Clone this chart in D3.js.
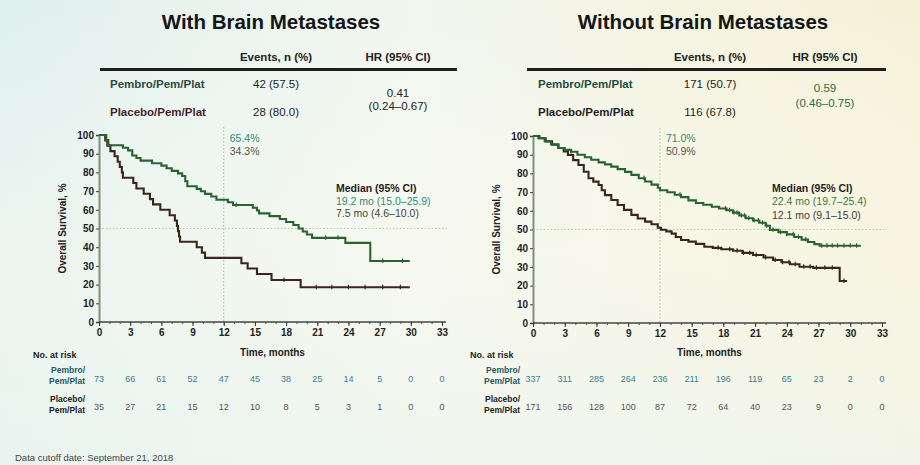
<!DOCTYPE html>
<html>
<head>
<meta charset="utf-8">
<script src="https://cdn.jsdelivr.net/npm/d3@7"></script>
<style>
  html, body { margin: 0; padding: 0; background: #f3f6ee; }
  svg { display: block; font-family: "Liberation Sans", Arial, sans-serif; }
</style>
</head>
<body>
<svg id="chart" width="920" height="465"></svg>
<script>
// ---- shared axis values ----
const timeTicks = [0, 3, 6, 9, 12, 15, 18, 21, 24, 27, 30, 33];
const survivalTicks = [0, 10, 20, 30, 40, 50, 60, 70, 80, 90, 100];

// ---- With brain metastases: KM steps [month, OS %] ----
const withPembro = [
  [0, 100], [0.7, 97.3], [0.9, 94.5], [2.3, 93.2], [2.8, 91.8], [3.2, 89.0], [3.6, 87.7],
  [4.0, 86.3], [5.1, 84.9], [6.0, 83.6], [6.5, 82.2], [7.0, 80.8], [7.6, 79.5], [8.0, 78.1],
  [8.3, 75.3], [8.5, 72.6], [9.4, 71.2], [9.8, 69.9], [10.2, 68.5], [10.8, 67.1], [11.3, 65.4],
  [12.4, 64.0], [12.9, 62.6], [14.8, 61.1], [15.2, 59.6], [15.4, 58.1], [16.4, 56.6],
  [17.4, 55.1], [18.0, 53.5], [18.7, 51.9], [19.2, 50.0], [19.6, 48.4], [20.0, 46.8],
  [20.5, 45.0], [23.7, 42.3], [26.1, 32.6], [29.9, 32.6]
];
const withPlacebo = [
  [0, 100], [0.6, 97.1], [0.8, 94.3], [1.1, 91.4], [1.5, 88.6], [1.8, 85.7], [2.0, 82.9],
  [2.2, 80.0], [2.3, 77.1], [3.3, 74.3], [3.6, 71.4], [4.3, 68.6], [4.9, 65.7], [5.2, 62.9],
  [5.9, 60.0], [6.8, 57.1], [7.3, 54.3], [7.5, 51.4], [7.6, 48.6], [7.7, 45.7], [7.8, 42.9],
  [9.4, 40.0], [9.9, 37.1], [10.2, 34.3], [13.7, 31.4], [14.3, 28.6], [15.2, 25.7],
  [16.6, 22.5], [19.4, 18.6], [29.9, 18.6]
];
const withPembroCensor = [13.2, 21.8, 23.0, 27.3, 29.2];
const withPlaceboCensor = [17.8, 20.9, 22.4, 24.0, 25.6, 27.3, 29.0];
const withRiskPembro = [73, 66, 61, 52, 47, 45, 38, 25, 14, 5, 0, 0];
const withRiskPlacebo = [35, 27, 21, 15, 12, 10, 8, 5, 3, 1, 0, 0];
const withEvents = ["42 (57.5)", "28 (80.0)"];
const withHR = ["0.41", "(0.24–0.67)"];
const withAt12 = ["65.4%", "34.3%"];
const withMedians = ["19.2 mo (15.0–25.9)", "7.5 mo (4.6–10.0)"];

// ---- Without brain metastases ----
const withoutPembro = [
  [0, 100], [0.5, 98.8], [1.1, 97.2], [1.7, 95.6], [2.4, 93.6], [3.0, 92.6], [3.6, 91.6],
  [4.2, 90.0], [4.9, 88.6], [5.5, 87.3], [6.2, 85.9], [6.8, 84.8], [7.4, 83.6], [8.0, 82.3],
  [8.7, 80.8], [9.3, 79.2], [10.0, 77.4], [10.6, 75.7], [11.2, 74.0], [11.8, 72.3], [12.0, 71.0],
  [12.7, 69.9], [13.4, 68.6], [14.0, 67.3], [14.7, 65.6], [15.4, 64.2], [16.1, 63.2],
  [16.9, 62.2], [17.6, 61.2], [18.3, 60.3], [18.9, 59.0], [19.5, 57.5], [20.1, 56.0],
  [20.8, 54.8], [21.4, 53.6], [22.0, 52.0], [22.4, 49.8], [23.2, 48.6], [24.0, 47.4],
  [24.7, 46.0], [25.4, 44.6], [26.0, 43.3], [26.6, 42.2], [27.1, 41.3], [31.0, 41.3]
];
const withoutPlacebo = [
  [0, 100], [0.6, 98.8], [1.2, 97.1], [1.8, 95.3], [2.4, 93.6], [2.9, 91.8], [3.3, 89.8],
  [3.8, 87.1], [4.3, 84.5], [4.8, 80.9], [5.25, 77.4], [5.7, 75.6], [6.2, 73.8], [6.5, 71.0],
  [6.8, 68.4], [7.4, 65.8], [8.0, 63.1], [8.6, 60.5], [9.3, 57.8], [9.9, 55.9], [10.6, 54.2],
  [11.2, 52.8], [11.8, 50.9], [12.1, 49.9], [12.6, 49.0], [13.1, 47.8], [13.5, 46.0],
  [14.0, 44.4], [14.7, 43.5], [15.4, 42.3], [16.2, 40.8], [17.0, 40.2], [17.8, 39.4],
  [18.9, 38.6], [19.8, 37.5], [20.8, 36.4], [21.8, 35.0], [22.7, 33.7], [23.5, 32.5],
  [24.3, 31.4], [25.2, 30.1], [26.5, 29.5], [29.0, 22.5], [29.7, 22.5]
];
const withoutPembroCensor = [3.6, 10.5, 13.9, 18.2, 18.6, 19.0, 19.3, 19.7, 20.0, 20.4, 20.9,
  21.3, 21.7, 22.1, 22.7, 23.4, 24.0, 24.6, 25.1, 25.8, 27.3, 27.8, 28.3, 28.8, 29.4, 30.0, 30.6];
const withoutPlaceboCensor = [17.5, 18.6, 19.3, 19.9, 20.5, 21.1, 22.0, 22.9, 23.6, 24.2,
  24.8, 25.6, 26.2, 26.8, 27.6, 28.3, 29.4];
const withoutRiskPembro = [337, 311, 285, 264, 236, 211, 196, 119, 65, 23, 2, 0];
const withoutRiskPlacebo = [171, 156, 128, 100, 87, 72, 64, 40, 23, 9, 0, 0];
const withoutEvents = ["171 (50.7)", "116 (67.8)"];
const withoutHR = ["0.59", "(0.46–0.75)"];
const withoutAt12 = ["71.0%", "50.9%"];
const withoutMedians = ["22.4 mo (19.7–25.4)", "12.1 mo (9.1–15.0)"];

const armNames = ["Pembro/Pem/Plat", "Placebo/Pem/Plat"];

const svg = d3.select("#chart");
const W = 920, H = 465;

// ---- slide backdrop ----
const defs = svg.append("defs");
const bgH = defs.append("linearGradient").attr("id", "bgH").attr("x1", 0).attr("x2", 1).attr("y1", 0).attr("y2", 0);
bgH.append("stop").attr("offset", 0).attr("stop-color", "#dff0ee");
bgH.append("stop").attr("offset", 0.45).attr("stop-color", "#f3f7ee");
bgH.append("stop").attr("offset", 1).attr("stop-color", "#f5f1d6");
const bgV = defs.append("linearGradient").attr("id", "bgV").attr("x1", 0).attr("x2", 0).attr("y1", 0).attr("y2", 1);
bgV.append("stop").attr("offset", 0).attr("stop-color", "#ffffff").attr("stop-opacity", 0.0);
bgV.append("stop").attr("offset", 0.55).attr("stop-color", "#fbfaf0").attr("stop-opacity", 0.45);
bgV.append("stop").attr("offset", 1).attr("stop-color", "#eef6f1").attr("stop-opacity", 0.6);
svg.append("rect").attr("width", W).attr("height", H).attr("fill", "url(#bgH)");
svg.append("rect").attr("width", W).attr("height", H).attr("fill", "url(#bgV)");

const GREEN = "#2a6332";
const PLACEBO = "#38261f";
const TEAL = "#2b8a78";

function stepValue(curve, t) {
  let v = curve[0][1];
  for (const [m, s] of curve) { if (m <= t) v = s; else break; }
  return v;
}

function drawPanel(p) {
  const g = svg.append("g");
  const x = d3.scaleLinear().domain([0, 33]).range([p.x0, p.x33]);
  const y = d3.scaleLinear().domain([0, 100]).range([p.y0, p.y100]);

  // title
  g.append("text").attr("x", p.titleX).attr("y", 29).attr("text-anchor", "middle")
    .attr("font-size", 20.5).attr("font-weight", "bold").attr("fill", "#161616").text(p.title);

  // summary table
  g.append("text").attr("x", p.evX).attr("y", 61).attr("text-anchor", "middle")
    .attr("font-size", 11.5).attr("font-weight", "bold").attr("fill", "#222").text("Events, n (%)");
  g.append("text").attr("x", p.hrX).attr("y", 61).attr("text-anchor", "middle")
    .attr("font-size", 11.5).attr("font-weight", "bold").attr("fill", "#222").text("HR (95% CI)");
  g.append("line").attr("x1", p.ruleX1).attr("x2", p.ruleX2).attr("y1", 69.5).attr("y2", 69.5)
    .attr("stroke", "#1e1e1e").attr("stroke-width", 3);
  const rowY = [88, 116];
  armNames.forEach((nm, i) => {
    g.append("text").attr("x", p.nameX).attr("y", rowY[i]).attr("font-size", 11.5)
      .attr("font-weight", "bold").attr("fill", p.nameColors[i]).text(nm);
    g.append("text").attr("x", p.evX).attr("y", rowY[i]).attr("text-anchor", "middle")
      .attr("font-size", 11.5).attr("fill", "#1e1e1e").text(p.events[i]);
  });
  p.hr.forEach((t, i) => {
    g.append("text").attr("x", p.hrX).attr("y", p.hrY[i]).attr("text-anchor", "middle")
      .attr("font-size", 11.5).attr("fill", p.hrColor).text(t);
  });

  // reference lines at 12 months and 50 %
  g.append("line").attr("x1", x(12)).attr("x2", x(12)).attr("y1", p.y100 - 8).attr("y2", p.y0)
    .attr("stroke", "#9cc79a").attr("stroke-width", 1).attr("stroke-dasharray", "1.5,2");
  g.append("line").attr("x1", x(0)).attr("x2", x(33) + 5).attr("y1", y(50)).attr("y2", y(50))
    .attr("stroke", "#b3cf8e").attr("stroke-width", 1).attr("stroke-dasharray", "1.5,2");

  // y axis
  const yAxis = d3.axisLeft(y).tickValues(survivalTicks).tickSize(3).tickPadding(2);
  const ya = g.append("g").attr("transform", `translate(${p.x0},0)`).call(yAxis);
  ya.select(".domain").attr("stroke", "#7f8f7c").attr("stroke-width", 2);
  ya.selectAll(".tick line").attr("stroke", "#444");
  ya.selectAll(".tick text").attr("font-size", 10).attr("font-weight", "bold")
    .attr("fill", "#222").attr("font-family", "Liberation Sans, Arial, sans-serif");

  // x axis with monthly minor ticks
  const minor = d3.range(0, 34, 1);
  const xMinor = d3.axisBottom(x).tickValues(minor).tickSize(2).tickFormat("");
  const xm = g.append("g").attr("transform", `translate(0,${p.y0})`).call(xMinor);
  xm.select(".domain").remove();
  xm.selectAll(".tick line").attr("stroke", "#555");
  const xAxis = d3.axisBottom(x).tickValues(timeTicks).tickSize(4).tickPadding(3);
  const xa = g.append("g").attr("transform", `translate(0,${p.y0})`).call(xAxis);
  xa.select(".domain").attr("stroke", "#444").attr("stroke-width", 1.5)
    .attr("d", `M${p.x0},0H${p.x33 + 4}`);
  xa.selectAll(".tick line").attr("stroke", "#333");
  xa.selectAll(".tick text").attr("font-size", 10).attr("font-weight", "bold")
    .attr("fill", "#222").attr("font-family", "Liberation Sans, Arial, sans-serif");

  g.append("text").attr("transform", `translate(${p.yLabelX},${(p.y0 + p.y100) / 2}) rotate(-90)`)
    .attr("text-anchor", "middle").attr("font-size", 10).attr("font-weight", "bold")
    .attr("fill", "#222").text("Overall Survival, %");
  g.append("text").attr("x", (p.x0 + p.x33) / 2 + 2).attr("y", 356).attr("text-anchor", "middle")
    .attr("font-size", 10).attr("font-weight", "bold").attr("fill", "#222").text("Time, months");

  // KM curves
  const line = d3.line().x(d => x(d[0])).y(d => y(d[1])).curve(d3.curveStepAfter);
  const curves = [[p.placebo, PLACEBO, p.placeboCensor], [p.pembro, GREEN, p.pembroCensor]];
  curves.forEach(([data, col, cens]) => {
    g.append("path").datum(data).attr("d", line).attr("fill", "none")
      .attr("stroke", col).attr("stroke-width", 2.1);
    g.selectAll(null).data(cens).enter().append("line")
      .attr("x1", d => x(d)).attr("x2", d => x(d))
      .attr("y1", d => y(stepValue(data, d)) - 2.5).attr("y2", d => y(stepValue(data, d)) + 2)
      .attr("stroke", col).attr("stroke-width", 1.2);
  });

  // 12-month rates
  g.append("text").attr("x", x(12) + 6).attr("y", 142).attr("font-size", 10.5)
    .attr("fill", TEAL).text(p.at12[0]);
  g.append("text").attr("x", x(12) + 6).attr("y", 155).attr("font-size", 10.5)
    .attr("fill", "#555").text(p.at12[1]);

  // medians
  g.append("text").attr("x", p.medX).attr("y", 192).attr("font-size", 10.5).attr("font-weight", "bold")
    .attr("fill", "#1e1e1e").text("Median (95% CI)");
  g.append("text").attr("x", p.medX).attr("y", 205).attr("font-size", 10.5)
    .attr("fill", p.medColors[0]).text(p.medians[0]);
  g.append("text").attr("x", p.medX).attr("y", p.medY2).attr("font-size", 10.5)
    .attr("fill", p.medColors[1]).text(p.medians[1]);

  // number at risk
  g.append("text").attr("x", p.riskTitleX).attr("y", 358).attr("font-size", 9)
    .attr("font-weight", "bold").attr("fill", "#222").text("No. at risk");
  const riskLabels = [["Pembro/", "Pem/Plat", 373, 384, "#1f5a66"], ["Placebo/", "Pem/Plat", 402, 413, "#222"]];
  riskLabels.forEach(([a, b, y1, y2, c]) => {
    g.append("text").attr("x", p.riskLabelX).attr("y", y1).attr("text-anchor", "end")
      .attr("font-size", 8.5).attr("font-weight", "bold").attr("fill", c).text(a);
    g.append("text").attr("x", p.riskLabelX).attr("y", y2).attr("text-anchor", "end")
      .attr("font-size", 8.5).attr("font-weight", "bold").attr("fill", c).text(b);
  });
  const riskRows = [[p.riskPembro, 382, "#3a7f93"], [p.riskPlacebo, 410, "#555"]];
  riskRows.forEach(([vals, yy, c]) => {
    g.selectAll(null).data(vals).enter().append("text")
      .attr("x", (d, i) => x(timeTicks[i])).attr("y", yy).attr("text-anchor", "middle")
      .attr("font-size", 9).attr("fill", c).text(d => d);
  });
}

drawPanel({
  title: "With Brain Metastases", titleX: 271,
  x0: 99, x33: 442, y0: 322, y100: 135,
  evX: 276, hrX: 398, ruleX1: 100, ruleX2: 457, nameX: 110,
  nameColors: ["#2c4a3c", "#4a1e2c"], events: withEvents,
  hr: withHR, hrY: [97, 110], hrColor: "#222",
  pembro: withPembro, placebo: withPlacebo,
  pembroCensor: withPembroCensor, placeboCensor: withPlaceboCensor,
  at12: withAt12, medians: withMedians, medX: 336, medY2: 217,
  medColors: [TEAL, "#444"],
  riskTitleX: 33, riskLabelX: 85, yLabelX: 66,
  riskPembro: withRiskPembro, riskPlacebo: withRiskPlacebo
});

drawPanel({
  title: "Without Brain Metastases", titleX: 703,
  x0: 533, x33: 882, y0: 323, y100: 136,
  evX: 710, hrX: 825, ruleX1: 527, ruleX2: 886, nameX: 538,
  nameColors: ["#1c4d42", "#1e1e1e"], events: withoutEvents,
  hr: withoutHR, hrY: [92, 107], hrColor: "#2a6a4e",
  pembro: withoutPembro, placebo: withoutPlacebo,
  pembroCensor: withoutPembroCensor, placeboCensor: withoutPlaceboCensor,
  at12: withoutAt12, medians: withoutMedians, medX: 772, medY2: 219,
  medColors: ["#3b7a3a", "#4a3a30"],
  riskTitleX: 470, riskLabelX: 520, yLabelX: 500,
  riskPembro: withoutRiskPembro, riskPlacebo: withoutRiskPlacebo
});

svg.append("text").attr("x", 15).attr("y", 461).attr("font-size", 9.5).attr("fill", "#444")
  .text("Data cutoff date: September 21, 2018");
</script>
</body>
</html>
